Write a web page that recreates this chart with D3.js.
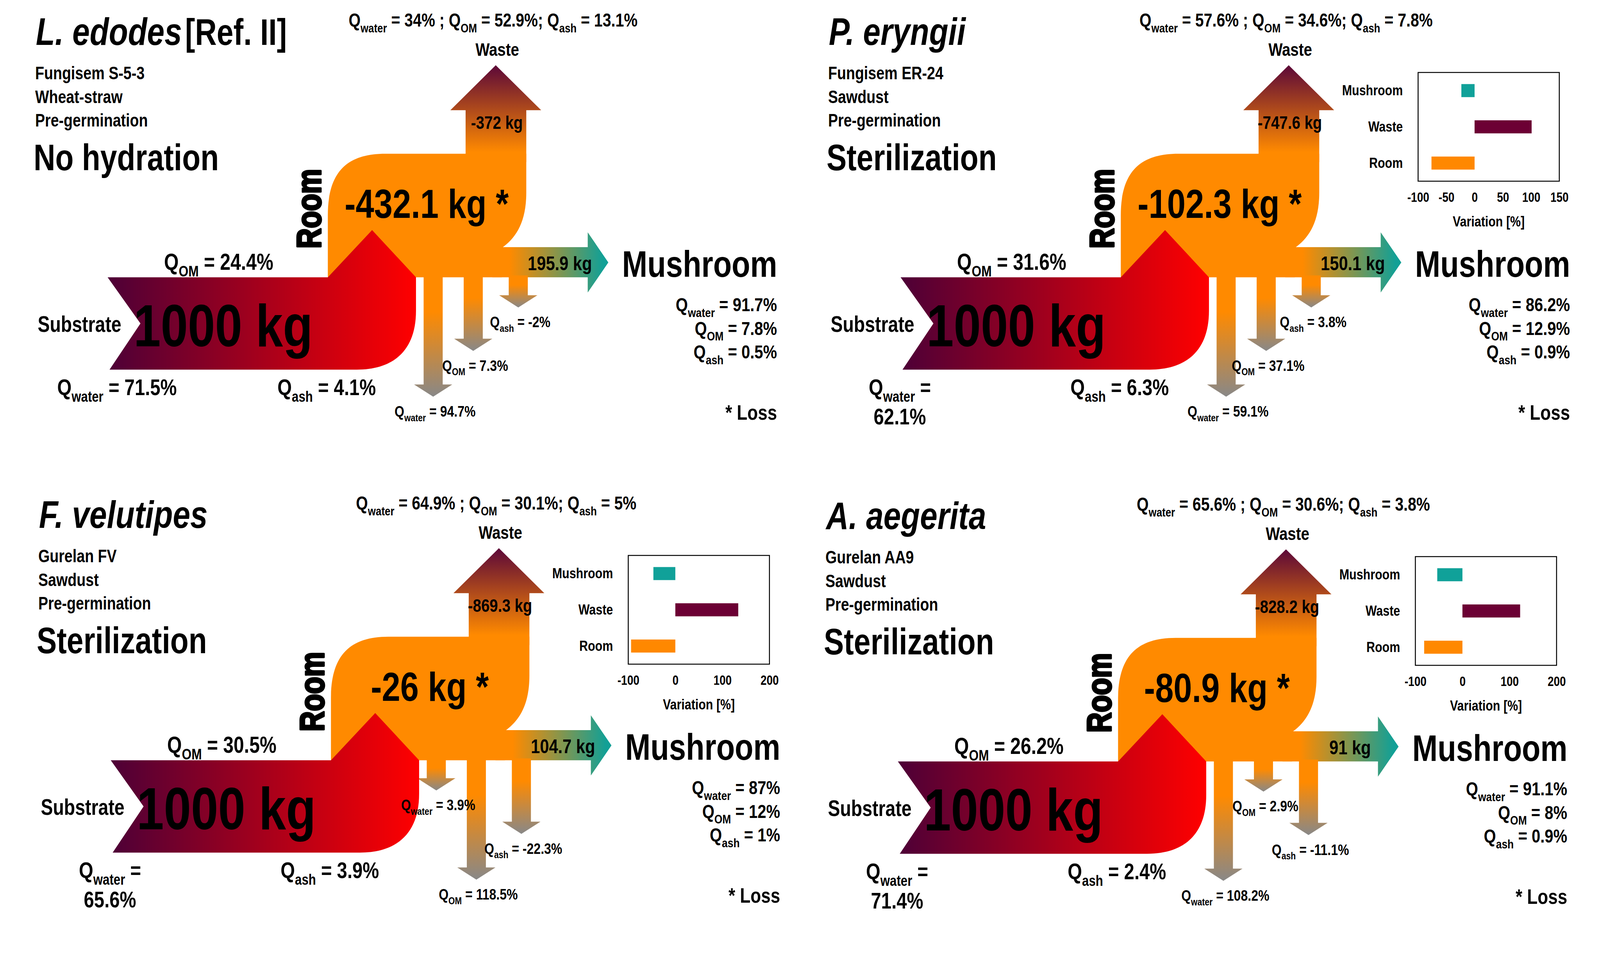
<!DOCTYPE html>
<html>
<head>
<meta charset="utf-8">
<script src="https://cdn.jsdelivr.net/npm/d3@7"></script>
<style>
  body { margin: 0; background: #fff; }
  svg text { font-family: "Liberation Sans", Arial, sans-serif; font-weight: bold; white-space: pre; }
</style>
</head>
<body>
<script>
// ---- data ----
const species    = ["L. edodes", "P. eryngii", "F. velutipes", "A. aegerita"];
const refTag     = ["[Ref. II]", "", "", ""];
const strains    = ["Fungisem S-5-3", "Fungisem ER-24", "Gurelan FV", "Gurelan AA9"];
const substrates = ["Wheat-straw", "Sawdust", "Sawdust", "Sawdust"];
const inoculum   = ["Pre-germination", "Pre-germination", "Pre-germination", "Pre-germination"];
const treatment  = ["No hydration", "Sterilization", "Sterilization", "Sterilization"];

const substrateKg = [1000, 1000, 1000, 1000];
const roomKg      = [-432.1, -102.3, -26, -80.9];
const wasteKg     = [-372, -747.6, -869.3, -828.2];
const mushroomKg  = [195.9, 150.1, 104.7, 91];

// composition [water, OM, ash] in %
const substrateComp = [[71.5, 24.4, 4.1], [62.1, 31.6, 6.3], [65.6, 30.5, 3.9], [71.4, 26.2, 2.4]];
const roomComp      = [[94.7, 7.3, -2], [59.1, 37.1, 3.8], [3.9, 118.5, -22.3], [108.2, 2.9, -11.1]];
const wasteComp     = [[34, 52.9, 13.1], [57.6, 34.6, 7.8], [64.9, 30.1, 5], [65.6, 30.6, 3.8]];
const mushroomComp  = [[91.7, 7.8, 0.5], [86.2, 12.9, 0.9], [87, 12, 1], [91.1, 8, 0.9]];
const compNames = ["water", "OM", "ash"];

// inset: variation vs. reference [%]
const variationCats  = ["Mushroom", "Waste", "Room"];
const variation      = [null, [-23.4, 101, -76.3], [-46.6, 133.7, -94], [-53.5, 122.6, -81.3]];
const variationTicks = [null, [-100, -50, 0, 50, 100, 150], [-100, 0, 100, 200], [-100, 0, 100, 200]];

// ---- layout ----
const W = 4145, H = 2446;
const SX = 0.82;   // condensed look
const PS = 0.977;  // panel scale
const panelOrigin = [[0, 0], [2030, 0], [8, 1237], [2023, 1240]];
const waterWrap = [false, true, true, true];
const col = { orange: "#ff8a00", red: "#ff0000", plum: "#4d0037", maroon: "#5c0838",
              teal: "#12a096", grey: "#888888", barTeal: "#10a199", barWaste: "#6c0034", barRoom: "#ff8800" };

const svg = d3.select("body").append("svg")
  .attr("width", W).attr("height", H).attr("viewBox", `0 0 ${W} ${H}`);
const defs = svg.append("defs");

function linGrad(id, attrs, stops) {
  const gr = defs.append("linearGradient").attr("id", id);
  Object.entries(attrs).forEach(([k, v]) => gr.attr(k, v));
  stops.forEach(([o, c]) => gr.append("stop").attr("offset", o).attr("stop-color", c));
}
linGrad("gSub",   { gradientUnits: "userSpaceOnUse", x1: 282, y1: 0, x2: 1090, y2: 0 }, [[0, col.plum], [1, col.red]]);
linGrad("gWaste", { gradientUnits: "userSpaceOnUse", x1: 0, y1: 430, x2: 0, y2: 171 }, [[0, col.orange], [0.12, col.orange], [1, col.maroon]]);
linGrad("gMush",  { gradientUnits: "userSpaceOnUse", x1: 1335, y1: 0, x2: 1580, y2: 0 }, [[0, col.orange], [1, col.teal]]);
linGrad("gDown",  { x1: 0, y1: 0, x2: 0, y2: 1 }, [[0, col.orange], [0.3, col.orange], [1, col.grey]]);

function label(g, x, y, size, anchor) {
  return g.append("text").attr("transform", `translate(${x},${y}) scale(${SX},1)`)
    .attr("font-size", size).attr("text-anchor", anchor || "start");
}

// text with Q-subscripts; segments starting with "_" are subscripts
function qText(g, x, y, segs, size, anchor) {
  const t = label(g, x, y, size, anchor);
  let shift = 0;
  segs.forEach(s => {
    const sub = s.startsWith("_");
    const target = sub ? size * 0.3 : 0;
    t.append("tspan").attr("dy", target - shift)
      .attr("font-size", sub ? size * 0.66 : size)
      .text(sub ? s.slice(1) : s);
    shift = target;
  });
  return t;
}
const qPart = (k, v, tail) => ["Q", "_" + compNames[k], ` = ${v}%${tail || ""}`];

function path(pts) {
  const p = d3.path();
  pts.forEach((d, j) => {
    if (d.c) p.bezierCurveTo(d.c[0], d.c[1], d.c[2], d.c[3], d.x, d.y);
    else if (j === 0) p.moveTo(d.x, d.y);
    else p.lineTo(d.x, d.y);
  });
  p.closePath();
  return p.toString();
}

function drawPanel(i) {
  const g = svg.append("g")
    .attr("transform", `translate(${panelOrigin[i][0]},${panelOrigin[i][1]}) scale(${PS})`);

  // Room body
  g.append("path").attr("fill", col.orange).attr("d", path([
    { x: 859, y: 727 }, { x: 859, y: 565 },
    { c: [859, 455, 905, 403], x: 1010, y: 403 }, { x: 1379, y: 403 }, { x: 1379, y: 505 },
    { c: [1379, 585, 1350, 625], x: 1315, y: 650 }, { x: 1315, y: 727 }
  ]));
  // Waste arrow
  g.append("path").attr("fill", "url(#gWaste)").attr("d", path([
    { x: 1220, y: 425 }, { x: 1220, y: 289 }, { x: 1180, y: 289 }, { x: 1299, y: 171 },
    { x: 1418, y: 289 }, { x: 1379, y: 289 }, { x: 1379, y: 425 }
  ]));
  // Mushroom arrow
  g.append("path").attr("fill", "url(#gMush)").attr("d", path([
    { x: 1290, y: 648 }, { x: 1540, y: 648 }, { x: 1540, y: 609 }, { x: 1594, y: 688 },
    { x: 1540, y: 767 }, { x: 1540, y: 727 }, { x: 1290, y: 727 }
  ]));

  // Room losses (water, OM, ash): arrow length by magnitude rank
  const comp = roomComp[i];
  const order = d3.range(3).sort((a, b) => Math.abs(comp[b]) - Math.abs(comp[a]));
  const rank = d3.range(3).map(k => order.indexOf(k));
  const stemX = d3.scaleOrdinal().domain([0, 1, 2]).range([1135, 1240, 1358]);
  const apexY = d3.scaleOrdinal().domain([0, 1, 2]).range([1040, 920, 806]);
  comp.forEach((v, k) => {
    const cx = stemX(k), ay = apexY(rank[k]), hb = ay - 32;
    g.append("path").attr("fill", "url(#gDown)").attr("d", path([
      { x: cx - 25, y: 722 }, { x: cx - 25, y: hb }, { x: cx - 50, y: hb }, { x: cx, y: ay },
      { x: cx + 50, y: hb }, { x: cx + 25, y: hb }, { x: cx + 25, y: 722 }
    ]));
  });

  // Substrate
  g.append("path").attr("fill", "url(#gSub)").attr("d", path([
    { x: 282, y: 727 }, { x: 859, y: 727 }, { x: 975, y: 603 }, { x: 1090, y: 727 },
    { x: 1090, y: 815 }, { c: [1090, 920, 1030, 969], x: 935, y: 969 },
    { x: 287, y: 969 }, { x: 368, y: 848 }
  ]));

  // loss labels
  comp.forEach((v, k) => {
    qText(g, stemX(k) + 5, apexY(rank[k]) + 52, qPart(k, v), 40, "middle");
  });

  // header texts
  const title = label(g, 94, 118, 100);
  title.append("tspan").attr("font-style", "italic").text(species[i]);
  if (refTag[i]) title.append("tspan").attr("dx", 10).attr("font-size", 96).text(refTag[i]);
  [strains[i], substrates[i], inoculum[i]].forEach((s, j) => {
    label(g, 92, 208 + j * 62, 47).text(s);
  });
  label(g, 88, 446, 96).text(treatment[i]);

  // waste
  const wc = wasteComp[i];
  qText(g, 1292, 70, [...qPart(0, wc[0], " ; "), ...qPart(1, wc[1], "; "), ...qPart(2, wc[2])], 49, "middle");
  label(g, 1303, 146, 48, "middle").text("Waste");
  label(g, 1302, 338, 48, "middle").text(`${wasteKg[i]} kg`);

  // room
  label(g, 1118, 571, 106, "middle").text(`${roomKg[i]} kg *`);
  g.append("text").attr("transform", `translate(840,547) rotate(-90) scale(${SX},1)`)
    .attr("text-anchor", "middle").attr("font-size", 90)
    .attr("stroke", "#000").attr("stroke-width", 5).attr("stroke-linejoin", "round").text("Room");

  // substrate
  const sc = substrateComp[i];
  label(g, 318, 870, 58, "end").text("Substrate");
  label(g, 350, 908, 156).text(`${substrateKg[i]} kg`);
  qText(g, 430, 707, qPart(1, sc[1]), 60);
  qText(g, 727, 1036, qPart(2, sc[2]), 59);
  if (waterWrap[i]) {
    qText(g, 280, 1036, ["Q", "_water", " ="], 59, "middle");
    label(g, 280, 1113, 59, "middle").text(`${sc[0]}%`);
  } else {
    qText(g, 150, 1036, qPart(0, sc[0]), 59);
  }

  // mushroom
  const mc = mushroomComp[i];
  label(g, 1467, 708, 52, "middle").text(`${mushroomKg[i]} kg`);
  label(g, 1630, 726, 97).text("Mushroom");
  mc.forEach((v, k) => qText(g, 2036, 816 + k * 62, qPart(k, v), 50, "end"));
  label(g, 2036, 1100, 55, "end").text("* Loss");

  if (variation[i]) drawInset(g, i);
}

function drawInset(g, i) {
  const ticks = variationTicks[i];
  const x = d3.scaleLinear().domain(d3.extent(ticks)).range([1638, 2008]);
  const y = d3.scaleBand().domain(variationCats).range([190, 475]).paddingInner(0.64).paddingOuter(0.32);
  const fills = [col.barTeal, col.barWaste, col.barRoom];

  g.append("rect").attr("x", 1638).attr("y", 190).attr("width", 370).attr("height", 285)
    .attr("fill", "none").attr("stroke", "#000").attr("stroke-width", 2.5);

  g.selectAll(null).data(variation[i]).enter().append("rect")
    .attr("x", d => x(Math.min(0, d)))
    .attr("width", d => Math.abs(x(d) - x(0)))
    .attr("y", (d, k) => y(variationCats[k]))
    .attr("height", y.bandwidth())
    .attr("fill", (d, k) => fills[k]);

  const ax = g.append("g").attr("transform", "translate(0,475)")
    .call(d3.axisBottom(x).tickValues(ticks).tickFormat(d => String(d)).tickSize(0).tickPadding(29));
  const ay = g.append("g").attr("transform", "translate(1638,0)")
    .call(d3.axisLeft(y).tickSize(0).tickPadding(40));
  [ax, ay].forEach(a => {
    a.attr("font-family", null).attr("font-size", null);
    a.select(".domain").remove();
  });
  ax.selectAll("text").attr("font-size", 35).attr("transform", `scale(${SX},1)`);
  ay.selectAll("text").attr("font-size", 38).attr("x", -40 / SX).attr("transform", `scale(${SX},1)`);

  label(g, 1823, 594, 38, "middle").text("Variation [%]");
}

d3.range(4).forEach(drawPanel);
</script>
</body>
</html>
